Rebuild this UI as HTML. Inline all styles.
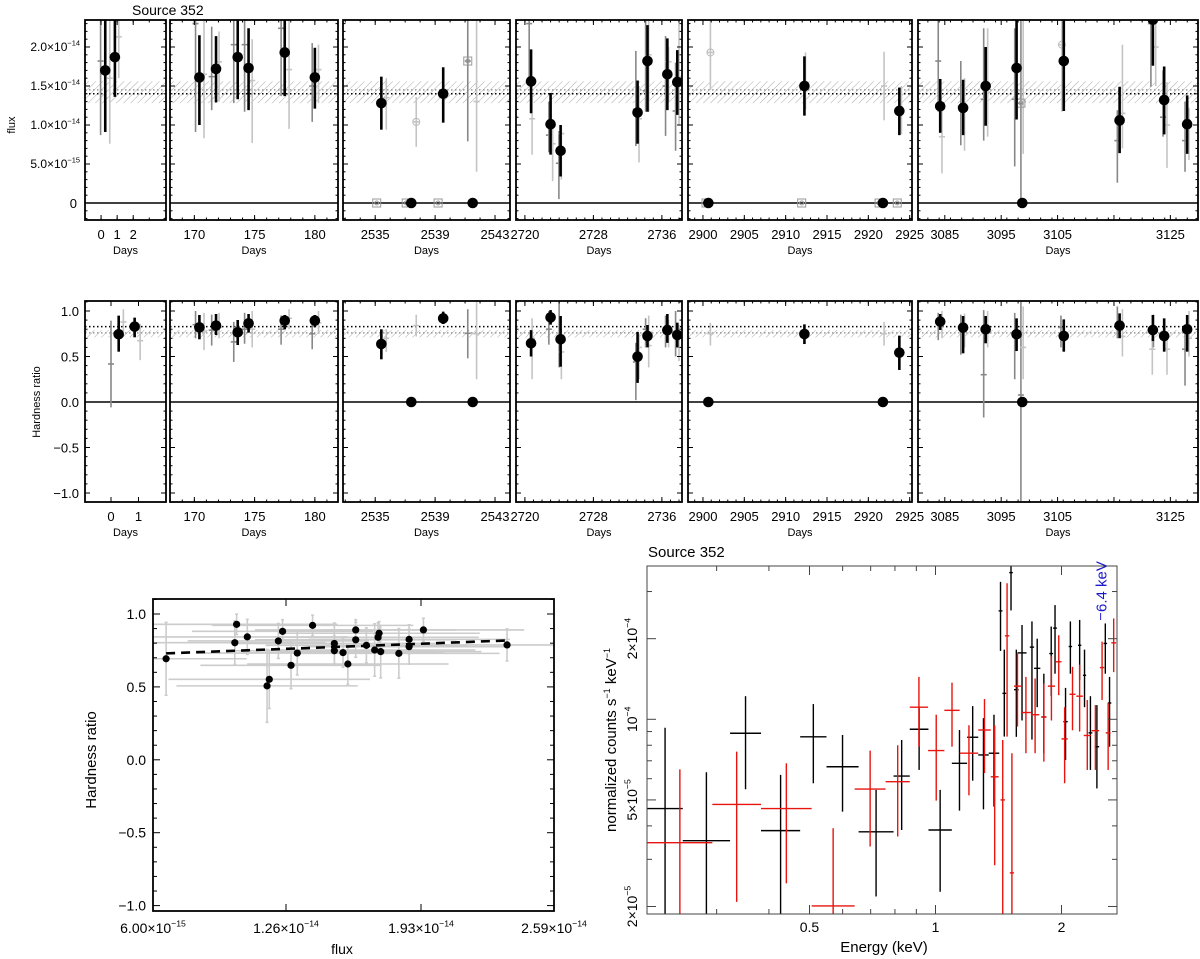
<!DOCTYPE html>
<html><head><meta charset="utf-8"><style>
body{margin:0;background:#fff}
svg{display:block;font-family:"Liberation Sans",sans-serif}
</style></head><body>
<svg id="fig" width="1200" height="959" viewBox="0 0 1200 959" xmlns="http://www.w3.org/2000/svg">
<defs>
<pattern id="hatch" patternUnits="userSpaceOnUse" width="5" height="5" patternTransform="rotate(45)">
<line x1="0" y1="0" x2="0" y2="5" stroke="#aaa" stroke-width="1"/></pattern>
</defs>
</svg>
<script>
// ---------- light curve data (flux in erg/cm2/s, days) ----------
const fluxBlackDays=[0.26,0.86,170.42,171.8,173.6,174.5,177.5,180.0,2535.41,2539.54,2720.72,2723.0,2724.17,2733.16,2734.32,2736.64,2737.8,2912.27,2923.75,3084.19,3088.25,3092.25,3097.73,3106.1,3116.0,3121.9,3123.9,3127.98];
const fluxBlackVals=[1.70e-14,1.87e-14,1.61e-14,1.72e-14,1.87e-14,1.73e-14,1.93e-14,1.61e-14,1.28e-14,1.40e-14,1.56e-14,1.01e-14,0.67e-14,1.16e-14,1.82e-14,1.65e-14,1.55e-14,1.50e-14,1.18e-14,1.24e-14,1.22e-14,1.50e-14,1.73e-14,1.82e-14,1.06e-14,2.35e-14,1.32e-14,1.01e-14];
const fluxBlackLo=[0.91e-14,1.36e-14,1.0e-14,1.29e-14,1.33e-14,1.19e-14,1.37e-14,1.21e-14,0.94e-14,1.03e-14,1.15e-14,0.62e-14,0.34e-14,0.76e-14,1.17e-14,1.19e-14,1.13e-14,1.12e-14,0.87e-14,0.90e-14,0.87e-14,0.99e-14,1.07e-14,1.18e-14,0.64e-14,1.76e-14,0.88e-14,0.63e-14];
const fluxBlackHi=[2.4e-14,2.4e-14,2.15e-14,2.14e-14,2.4e-14,2.24e-14,2.4e-14,1.99e-14,1.62e-14,1.74e-14,1.97e-14,1.41e-14,1.0e-14,1.57e-14,2.28e-14,2.11e-14,1.96e-14,1.88e-14,1.48e-14,1.59e-14,1.58e-14,2.0e-14,2.4e-14,2.4e-14,1.49e-14,2.4e-14,1.75e-14,1.38e-14];
const fluxGreyDays=[-0.03,0.54,1.1,170.1,171.44,173.27,174.17,177.2,179.78,170.8,172.05,174.8,177.86,180.3,2535.74,2537.74,2541.18,2541.77,2720.5,2720.84,2722.8,2723.24,2723.97,2724.26,2732.96,2733.33,2734.1,2734.46,2736.43,2736.78,2737.6,2738.0,2900.9,2912.4,2921.9,2924.0,3083.84,3084.5,3087.84,3088.5,3091.9,3092.6,3097.4,3098.5,3098.9,3105.77,3115.6,3116.5,3121.55,3122.4,3123.7,3124.4,3127.6,3128.3];
const fluxGreyVals=[1.82e-14,1.6e-14,2.13e-14,2.3e-14,1.62e-14,2.03e-14,2.03e-14,2.24e-14,1.5e-14,1.65e-14,1.81e-14,1.57e-14,1.71e-14,1.71e-14,1.35e-14,1.04e-14,1.82e-14,1.3e-14,2.3e-14,1.08e-14,0.87e-14,0.76e-14,0.51e-14,0.89e-14,1.2e-14,1.08e-14,1.44e-14,1.9e-14,1.5e-14,1.81e-14,1.18e-14,1.62e-14,1.93e-14,1.55e-14,1.5e-14,1.18e-14,1.82e-14,0.85e-14,1.24e-14,1.2e-14,1.33e-14,1.42e-14,1.33e-14,1.28e-14,1.3e-14,2.03e-14,0.8e-14,1.15e-14,2.3e-14,2.0e-14,1.1e-14,1.0e-14,0.8e-14,1.0e-14];
const fluxGreyLo=[0.87e-14,0.76e-14,1.6e-14,0.91e-14,1.19e-14,1.28e-14,1.17e-14,1.37e-14,1.04e-14,0.83e-14,1.30e-14,0.77e-14,0.95e-14,1.28e-14,0.94e-14,0.72e-14,0.79e-14,0.40e-14,1.56e-14,0.62e-14,0.65e-14,0.28e-14,0.05e-14,0.3e-14,0.73e-14,0.52e-14,1.17e-14,1.17e-14,0.86e-14,1.3e-14,0.67e-14,1.0e-14,1.45e-14,1.2e-14,1.06e-14,0.88e-14,1.17e-14,0.38e-14,0.74e-14,0.67e-14,0.8e-14,0.85e-14,0.47e-14,0,0.63e-14,1.17e-14,0.26e-14,0.7e-14,1.49e-14,1.5e-14,0.85e-14,0.45e-14,0.4e-14,0.55e-14];
const fluxGreyHi=[2.4e-14,2.4e-14,2.4e-14,2.4e-14,2.26e-14,2.4e-14,2.4e-14,2.4e-14,2.05e-14,2.4e-14,2.2e-14,2.1e-14,2.4e-14,2.03e-14,1.6e-14,1.36e-14,2.4e-14,2.4e-14,2.4e-14,1.4e-14,1.3e-14,1.05e-14,0.92e-14,1.0e-14,1.95e-14,1.5e-14,2.4e-14,2.4e-14,2.14e-14,2.0e-14,1.8e-14,2.4e-14,2.4e-14,1.93e-14,1.94e-14,1.5e-14,2.4e-14,1.24e-14,1.82e-14,1.6e-14,2.24e-14,2.24e-14,2.24e-14,2.4e-14,2.4e-14,2.4e-14,1.19e-14,2.03e-14,2.4e-14,2.4e-14,1.7e-14,1.55e-14,1.3e-14,1.22e-14];
const fluxGreyShade=['d','l','l','d','d','d','d','d','d','l','l','l','l','l','l','l','d','l','d','l','d','l','d','l','d','l','d','l','d','l','d','l','l','l','l','l','d','l','d','l','d','l','d','d','l','l','d','l','d','l','d','l','d','l'];
const fluxCircleDays=[2537.74,2900.9,3105.77];
const fluxCircleVals=[1.04e-14,1.93e-14,2.03e-14];
const fluxSquareDays=[2535.1,2537.07,2539.2,2541.18,2900.37,2911.94,2921.3,2923.5,3098.5];
const fluxSquareVals=[0,0,0,1.82e-14,0,0,0,0,1.28e-14];
const zeroDays=[2537.41,2541.51,2900.65,2921.76,3098.74];
// hardness
const hrBlackDays=[0.28,0.86,170.42,171.8,173.6,174.5,177.5,180.0,2535.41,2539.54,2720.72,2723.0,2724.17,2733.16,2734.32,2736.64,2737.8,2912.27,2923.75,3084.19,3088.25,3092.25,3097.73,3106.1,3116.0,3121.9,3123.9,3127.98];
const hrBlackVals=[0.744,0.828,0.82,0.839,0.766,0.864,0.894,0.894,0.637,0.919,0.645,0.93,0.689,0.498,0.725,0.79,0.736,0.747,0.542,0.883,0.817,0.799,0.744,0.725,0.839,0.791,0.725,0.799];
const hrBlackLo=[0.553,0.711,0.689,0.736,0.626,0.762,0.798,0.821,0.469,0.857,0.5,0.85,0.388,0.21,0.6,0.65,0.6,0.637,0.352,0.791,0.535,0.645,0.56,0.553,0.701,0.67,0.553,0.553];
const hrBlackHi=[0.949,0.927,0.956,0.967,0.901,0.967,0.956,0.956,0.799,0.993,0.79,1.01,0.945,0.77,0.846,0.967,0.872,0.853,0.729,0.967,0.945,0.945,0.919,0.908,0.974,0.956,0.919,0.956];
const hrGreyDays=[0,0.45,1.06,170.1,171.44,173.27,174.17,177.2,179.78,170.8,172.05,174.8,177.86,180.3,2535.74,2537.74,2541.18,2541.77,2720.84,2722.8,2724.0,2724.26,2732.96,2733.33,2734.1,2734.46,2736.43,2736.78,2737.6,2738.0,2900.9,2921.9,3083.84,3084.5,3087.84,3088.5,3091.9,3092.6,3097.4,3098.5,3098.9,3105.6,3115.6,3116.5,3121.8,3122.0,3124.4,3127.6,3128.3];
const hrGreyVals=[0.418,0.88,0.674,0.85,0.79,0.66,0.8,0.8,0.75,0.78,0.82,0.8,0.92,0.87,0.7,0.84,0.755,0.75,0.7,0.8,0.7,0.55,0.44,0.6,0.8,0.62,0.8,0.75,0.72,0.6,0.75,0.75,0.87,0.88,0.83,0.8,0.3,0.79,0.75,0.077,0.6,0.82,0.85,0.72,0.58,0.8,0.58,0.58,0.7];
const hrGreyLo=[-0.059,0.72,0.46,0.7,0.62,0.44,0.64,0.63,0.58,0.57,0.7,0.6,0.8,0.76,0.55,0.72,0.48,0.25,0.25,0.63,0.38,0.25,0.02,0.25,0.6,0.38,0.6,0.6,0.5,0.45,0.62,0.62,0.68,0.7,0.52,0.6,-0.17,0.6,0.25,-1.2,0.25,0.6,0.7,0.5,0.3,0.6,0.3,0.18,0.5];
const hrGreyHi=[0.894,1.02,0.86,1.0,0.96,0.88,0.98,0.95,0.92,0.98,0.98,1.0,1.02,1.0,0.8,0.96,1.02,1.2,0.92,1.0,1.2,0.8,0.65,0.75,0.92,0.95,0.95,0.9,1.0,0.85,0.87,0.88,0.98,1.0,0.96,0.97,1.01,1.0,0.98,1.2,1.05,0.95,1.05,1.02,0.8,0.96,0.75,0.85,1.0];
const hrGreyShade=['d','l','l','d','d','d','d','d','d','l','l','l','l','l','l','l','d','l','l','d','d','l','d','l','d','l','d','l','d','l','l','l','d','l','d','l','d','l','d','d','l','d','d','l','l','d','l','d','l'];
// scatter
const scatFlux=[6.65e-15,10.06e-15,10.15e-15,10.68e-15,11.66e-15,11.77e-15,12.22e-15,12.43e-15,12.85e-15,13.16e-15,13.92e-15,15.0e-15,15.0e-15,15.43e-15,15.67e-15,16.06e-15,16.06e-15,16.59e-15,17.0e-15,17.17e-15,17.22e-15,17.3e-15,18.2e-15,18.71e-15,18.71e-15,19.42e-15,23.57e-15];
const scatHr=[0.693,0.803,0.929,0.843,0.507,0.552,0.815,0.881,0.648,0.732,0.922,0.798,0.748,0.735,0.657,0.891,0.823,0.785,0.753,0.84,0.868,0.742,0.73,0.826,0.776,0.891,0.788];
const scatFluxErr=[4e-15,4.5e-15,5e-15,5e-15,4.5e-15,5e-15,4.5e-15,4.5e-15,4.5e-15,5e-15,5e-15,5e-15,5e-15,5e-15,5e-15,5e-15,5e-15,5e-15,5e-15,5e-15,5e-15,5e-15,5e-15,5e-15,5e-15,5e-15,4e-15];
const scatHrErr=[0.25,0.15,0.07,0.12,0.25,0.2,0.12,0.08,0.16,0.15,0.07,0.14,0.1,0.1,0.14,0.07,0.12,0.12,0.18,0.1,0.08,0.18,0.17,0.1,0.12,0.08,0.11];
const fitFlux=[6.65e-15,23.5e-15];
const fitHr=[0.730,0.818];
// spectrum
const blkElo=[0.205,0.249,0.323,0.383,0.475,0.549,0.655,0.794,0.868,0.962,1.094,1.19,1.265,1.34,1.415,1.445,1.50,1.54,1.57,1.68,1.72,1.79,1.87,1.91,2.02,2.08,2.19,2.25,2.32,2.40,2.52,2.58];
const blkEhi=[0.249,0.323,0.383,0.475,0.549,0.655,0.794,0.868,0.962,1.094,1.19,1.265,1.34,1.42,1.445,1.475,1.53,1.58,1.65,1.72,1.78,1.84,1.91,1.95,2.07,2.12,2.23,2.29,2.37,2.46,2.57,2.63];
const blkF=[4.64e-5,3.52e-5,8.87e-5,3.84e-5,8.6e-5,6.65e-5,3.8e-5,6.14e-5,9.18e-5,3.86e-5,6.85e-5,8.57e-5,7.36e-5,7.47e-5,2.54e-4,1.25e-4,3.53e-4,1.29e-4,1.77e-4,1.86e-4,1.55e-4,1.02e-4,1.76e-4,2.19e-4,9.8e-5,1.87e-4,1.89e-4,1.46e-4,8.9e-5,7.9e-5,1.92e-4,1.15e-4];
const blkFlo=[1.8e-5,1.8e-5,5.48e-5,1.8e-5,5.77e-5,4.52e-5,2.18e-5,3.86e-5,6.47e-5,2.27e-5,4.56e-5,5.9e-5,4.61e-5,4.72e-5,1.80e-4,8.62e-5,2.55e-4,8.6e-5,9.9e-5,8.4e-5,1.11e-4,7.47e-5,1.22e-4,1.48e-4,7.05e-5,1.48e-4,1.40e-4,1.11e-4,6.47e-5,5.52e-5,1.48e-4,7.9e-5];
const blkFhi=[9.3e-5,6.34e-5,1.22e-4,6.2e-5,1.14e-4,8.74e-5,5.45e-5,8.37e-5,1.11e-4,5.45e-5,9.12e-5,1.12e-4,1.01e-4,1.04e-4,3.26e-4,1.82e-4,3.9e-4,1.82e-4,2.25e-4,2.32e-4,2.0e-4,1.48e-4,2.22e-4,2.67e-4,1.31e-4,2.32e-4,2.35e-4,1.82e-4,1.22e-4,1.13e-4,2.28e-4,1.44e-4];
const redElo=[0.205,0.293,0.383,0.506,0.641,0.76,0.868,0.96,1.05,1.142,1.265,1.355,1.43,1.465,1.505,1.54,1.6,1.69,1.79,1.855,1.94,2.0,2.09,2.17,2.26,2.36,2.47,2.55,2.63];
const redEhi=[0.293,0.383,0.506,0.641,0.76,0.868,0.96,1.05,1.142,1.265,1.355,1.415,1.465,1.50,1.54,1.6,1.69,1.77,1.84,1.93,2.0,2.07,2.16,2.25,2.35,2.46,2.53,2.62,2.70];
const redF=[3.46e-5,4.81e-5,4.64e-5,2.01e-5,5.49e-5,5.85e-5,1.11e-4,7.64e-5,1.08e-4,7.47e-5,9.12e-5,6.1e-5,5.0e-5,2.05e-4,2.67e-5,1.33e-4,1.06e-4,1.04e-4,1.02e-4,1.33e-4,1.64e-4,8.45e-5,1.24e-4,1.22e-4,8.7e-5,9.07e-5,1.56e-4,8.9e-5,1.93e-4];
const redFlo=[1.8e-5,2.08e-5,2.44e-5,1.8e-5,3.35e-5,3.65e-5,7.9e-5,4.97e-5,7.9e-5,5.2e-5,6.3e-5,2.85e-5,1.8e-5,8.62e-5,1.8e-5,9.4e-5,7.47e-5,7.47e-5,6.95e-5,9.9e-5,1.23e-4,5.77e-5,9.1e-5,9.0e-5,6.47e-5,6.47e-5,1.18e-4,6.47e-5,1.5e-4];
const redFhi=[6.5e-5,7.57e-5,6.85e-5,3.92e-5,7.64e-5,8.0e-5,1.44e-4,1.04e-4,1.37e-4,9.5e-5,1.19e-4,9.5e-5,8.37e-5,3.22e-4,7.47e-5,1.76e-4,1.44e-4,1.42e-4,1.36e-4,1.72e-4,2.06e-4,1.11e-4,1.57e-4,1.6e-4,1.18e-4,1.13e-4,1.95e-4,1.15e-4,2.38e-4];

const svg=document.getElementById('fig');
const NS='http://www.w3.org/2000/svg';
function mk(tag,attrs,parent){const e=document.createElementNS(NS,tag);for(const k in attrs)e.setAttribute(k,attrs[k]);(parent||svg).appendChild(e);return e;}
function txt(x,y,s,opt,parent){const t=mk('text',Object.assign({x:x,y:y,'font-size':12,'text-anchor':'middle',fill:'#000'},opt||{}),parent);t.textContent=s;return t;}
function sciLabel(x,y,base,exp,size,anchor,parent){
  const t=mk('text',{x:x,y:y,'font-size':size,'text-anchor':anchor,fill:'#000'},parent);
  t.appendChild(document.createTextNode(base));
  const s=document.createElementNS(NS,'tspan');s.setAttribute('dy',-size*0.45);s.setAttribute('font-size',size*0.62);s.textContent=exp;t.appendChild(s);return t;}

// ---- light-curve panels geometry ----
const panels=[
 {x0:85,x1:166,d0:-1,d1:4.04,hd0:-0.945,hd1:2.0,ticks:[0,1,2],hticks:[0,1],minor:1},
 {x0:170,x1:338,d0:167.98,d1:181.92,ticks:[170,175,180],minor:1},
 {x0:343,x1:510,d0:2532.85,d1:2544.0,ticks:[2535,2539,2543],minor:1},
 {x0:516,x1:682,d0:2718.96,d1:2738.35,ticks:[2720,2728,2736],minor:1},
 {x0:688,x1:912,d0:2898.19,d1:2925.28,ticks:[2900,2905,2910,2915,2920,2925],minor:1},
 {x0:918,x1:1198,d0:3080.25,d1:3129.9,ticks:[3085,3095,3105,3115,3125],nolabel:[3115],minor:2}
];
const rows=[
 {name:'flux',top:20,bot:220,y:v=>203-v/1e-14*78,lo:-0.22e-14,hi:2.35e-14,labY:239,daysY:254},
 {name:'hardness',top:301,bot:502,y:v=>402-v*91,lo:-1.1,hi:1.11,labY:521,daysY:536}
];
function panelFor(d){return panels.findIndex(p=>d>=p.d0&&d<=p.d1);}
function xs(p,d,hr){const a=hr&&p.hd0!==undefined?p.hd0:p.d0,b=hr&&p.hd1!==undefined?p.hd1:p.d1;return p.x0+(d-a)/(b-a)*(p.x1-p.x0);}

rows.forEach((r,ri)=>{
  const isHr=ri===1;
  panels.forEach((p,pi)=>{
    const g=mk('g',{});
    
    
    const cid='clip'+ri+'_'+pi;
    const cp=mk('clipPath',{id:cid},g);mk('rect',{x:p.x0,y:r.top,width:p.x1-p.x0,height:r.bot-r.top},cp);
    const inner=mk('g',{'clip-path':'url(#'+cid+')'},g);
    const bLo=isHr?0.71:1.28e-14,bHi=isHr?0.79:1.56e-14;
    const band=mk('rect',{x:p.x0,y:r.y(bHi),width:p.x1-p.x0,height:r.y(bLo)-r.y(bHi),fill:'url(#hatch)'},inner);
    
    
    const gm=isHr?0.76:1.45e-14, bm=isHr?0.828:1.40e-14;
    mk('line',{x1:p.x0,x2:p.x1,y1:r.y(gm),y2:r.y(gm),stroke:'#999','stroke-width':1.5,'stroke-dasharray':'1.5 2.5'},inner);
    const ml=mk('line',{x1:p.x0,x2:p.x1,y1:r.y(bm),y2:r.y(bm),stroke:'#000','stroke-width':1.5,'stroke-dasharray':'1.5 2.5'},inner);
    
    
    const zl=mk('line',{x1:p.x0,x2:p.x1,y1:r.y(0),y2:r.y(0),stroke:'#000','stroke-width':1.5},inner);
    
    
    p['inner'+ri]=inner;
    mk('rect',{x:p.x0,y:r.top,width:p.x1-p.x0,height:r.bot-r.top,fill:'none',stroke:'#000','stroke-width':1.8},g);
    const a=isHr&&p.hd0!==undefined?p.hd0:p.d0,b=isHr&&p.hd1!==undefined?p.hd1:p.d1;
    const tk=isHr&&p.hticks?p.hticks:p.ticks;
    for(let d=Math.ceil(a/p.minor)*p.minor;d<=b;d+=p.minor){const x=xs(p,d,isHr);
      mk('line',{x1:x,x2:x,y1:r.bot,y2:r.bot-2.5,stroke:'#000'},g);mk('line',{x1:x,x2:x,y1:r.top,y2:r.top+2.5,stroke:'#000'},g);}
    tk.forEach(d=>{const x=xs(p,d,isHr);
      mk('line',{x1:x,x2:x,y1:r.bot,y2:r.bot-5,stroke:'#000'},g);mk('line',{x1:x,x2:x,y1:r.top,y2:r.top+5,stroke:'#000'},g);
      if(!(p.nolabel&&p.nolabel.includes(d))){const t=txt(x,r.labY,String(d),{'font-size':13},g);
        
        }});
    const dl=txt((p.x0+p.x1)/2,r.daysY,'Days',{'font-size':11},g);
    
    
    const minorStep=isHr?0.1:1e-15, majorStep=isHr?0.5:5e-15;
    for(let k=Math.ceil(r.lo/minorStep);k*minorStep<=r.hi;k++){const y=r.y(k*minorStep);const major=Math.abs(k*minorStep/majorStep-Math.round(k*minorStep/majorStep))<1e-6;const L=major?5:2.5;
      mk('line',{x1:p.x0,x2:p.x0+L,y1:y,y2:y,stroke:'#000'},g);mk('line',{x1:p.x1,x2:p.x1-L,y1:y,y2:y,stroke:'#000'},g);}
  });
});
[0,5e-15,1e-14,1.5e-14,2e-14].forEach(v=>{const y=rows[0].y(v)+4;let t;
  if(v===0)t=txt(77,y+1,'0',{'font-size':13,'text-anchor':'end'});
  else{const e=Math.floor(Math.log10(v)+1e-9);t=sciLabel(80,y,(v/Math.pow(10,e)).toFixed(1)+'×10','−'+(-e),12,'end');}
  
  });
[1,0.5,0,-0.5,-1].forEach(v=>{const t=txt(79,rows[1].y(v)+5,(v<0?'−':'')+Math.abs(v).toFixed(1),{'font-size':13,'text-anchor':'end'});
  
  });
let yt=txt(0,0,'flux',{'font-size':11,transform:'translate(15,125) rotate(-90)'});


yt=txt(0,0,'Hardness ratio',{'font-size':11,transform:'translate(40,402) rotate(-90)'});


let tt=txt(132,15,'Source 352',{'font-size':14,'text-anchor':'start'});



function errMarks(ri,days,vals,lo,hi,shade,kind){
  const r=rows[ri];
  days.forEach((d,i)=>{const pi=panelFor(d);if(pi<0)return;const p=panels[pi];const g=p['inner'+ri];
    const x=xs(p,d,ri===1);
    if(kind==='grey'){const col=shade[i]==='d'?'#888':'#c4c4c4';
      const l=mk('line',{x1:x,x2:x,y1:r.y(hi[i]),y2:r.y(lo[i]),stroke:col,'stroke-width':1.6},g);
      
      
      mk('line',{x1:x-3,x2:x+3,y1:r.y(vals[i]),y2:r.y(vals[i]),stroke:col,'stroke-width':1.6},g);}
    else{mk('line',{x1:x,x2:x,y1:r.y(hi[i]),y2:r.y(lo[i]),stroke:'#000','stroke-width':2.6},g);
      const c=mk('circle',{cx:x,cy:r.y(vals[i]),r:5.3,fill:'#000'},g);
      
      }
  });
}
errMarks(0,fluxGreyDays,fluxGreyVals,fluxGreyLo,fluxGreyHi,fluxGreyShade,'grey');
errMarks(1,hrGreyDays,hrGreyVals,hrGreyLo,hrGreyHi,hrGreyShade,'grey');
fluxCircleDays.forEach((d,i)=>{const p=panels[panelFor(d)];const c=mk('circle',{cx:xs(p,d),cy:rows[0].y(fluxCircleVals[i]),r:3.5,fill:'none',stroke:'#bbb'},p.inner0);
  
  });
fluxSquareDays.forEach((d,i)=>{const p=panels[panelFor(d)];const x=xs(p,d),y=rows[0].y(fluxSquareVals[i]);
  const s=mk('rect',{x:x-4,y:y-4,width:8,height:8,fill:'none',stroke:'#999'},p.inner0);
  
  
  mk('circle',{cx:x,cy:y,r:2,fill:'none',stroke:'#999'},p.inner0);});
errMarks(0,fluxBlackDays,fluxBlackVals,fluxBlackLo,fluxBlackHi,null,'black');
errMarks(1,hrBlackDays,hrBlackVals,hrBlackLo,hrBlackHi,null,'black');
[0,1].forEach(ri=>zeroDays.forEach(d=>{const p=panels[panelFor(d)];const c=mk('circle',{cx:xs(p,d,ri===1),cy:rows[ri].y(0),r:5.3,fill:'#000'},p['inner'+ri]);
  
  }));

// ---------- scatter ----------
const SX0=153,SX1=554,SY0=599,SY1=911;
const sx=f=>SX0+(f-6e-15)/(25.9e-15-6e-15)*(SX1-SX0);
const sy=h=>614+(1-h)*145.8;
const sg=mk('g',{});


const scp=mk('clipPath',{id:'scatclip'},sg);mk('rect',{x:SX0,y:SY0,width:SX1-SX0,height:SY1-SY0},scp);
const sin=mk('g',{'clip-path':'url(#scatclip)'},sg);
scatFlux.forEach((f,i)=>{
  mk('line',{x1:sx(f-scatFluxErr[i]),x2:sx(f+scatFluxErr[i]),y1:sy(scatHr[i]),y2:sy(scatHr[i]),stroke:'#ccc','stroke-width':1.6},sin);
  mk('line',{x1:sx(f),x2:sx(f),y1:sy(scatHr[i]+scatHrErr[i]),y2:sy(scatHr[i]-scatHrErr[i]),stroke:'#ccc','stroke-width':1.6},sin);
  [1,-1].forEach(s=>mk('line',{x1:sx(f)-1.5,x2:sx(f)+1.5,y1:sy(scatHr[i]+s*scatHrErr[i]),y2:sy(scatHr[i]+s*scatHrErr[i]),stroke:'#ccc','stroke-width':1.6},sin));});
scatFlux.forEach((f,i)=>{const c=mk('circle',{cx:sx(f),cy:sy(scatHr[i]),r:3.6,fill:'#000'},sin);
  
  });
const fit=mk('line',{x1:sx(fitFlux[0]),x2:sx(fitFlux[1]),y1:sy(fitHr[0]),y2:sy(fitHr[1]),stroke:'#000','stroke-width':2.6,'stroke-dasharray':'9 6'},sin);


mk('rect',{x:SX0,y:SY0,width:SX1-SX0,height:SY1-SY0,fill:'none',stroke:'#000','stroke-width':1.8},sg);
for(let k=-10;k<=11;k++){const v=k/10;const y=sy(v);const major=k%5===0;const L=major?7:4;
  mk('line',{x1:SX0,x2:SX0+L,y1:y,y2:y,stroke:'#000'},sg);mk('line',{x1:SX1,x2:SX1-L,y1:y,y2:y,stroke:'#000'},sg);
  if(major){const t=txt(SX0-7,y+5,(v<0?'−':'')+Math.abs(v).toFixed(1),{'font-size':14,'text-anchor':'end'},sg);
    
    }}
[[6e-15,'6.00×10','−15'],[12.6e-15,'1.26×10','−14'],[19.3e-15,'1.93×10','−14'],[25.9e-15,'2.59×10','−14']].forEach(tk=>{const x=sx(tk[0]);
  mk('line',{x1:x,x2:x,y1:SY1,y2:SY1-7,stroke:'#000'},sg);mk('line',{x1:x,x2:x,y1:SY0,y2:SY0+7,stroke:'#000'},sg);
  const t=sciLabel(x,933,tk[1],tk[2],14,'middle',sg);
  
  });
let st=txt(342,954,'flux',{'font-size':14},sg);


st=txt(0,0,'Hardness ratio',{'font-size':15,transform:'translate(96,760) rotate(-90)'},sg);



// ---------- spectrum ----------
const PX0=647,PX1=1117,PY0=566,PY1=914;
const ex=E=>935.5+Math.log10(E)*418.6;
const fy=F=>719.3-(Math.log10(F)+4)*267.8;
const pg=mk('g',{});


const pcp=mk('clipPath',{id:'specclip'},pg);mk('rect',{x:PX0,y:PY0,width:PX1-PX0,height:PY1-PY0},pcp);
const pin=mk('g',{'clip-path':'url(#specclip)'},pg);
function spec(elo,ehi,f,flo,fhi,col,nm){elo.forEach((a,i)=>{const xc=ex(Math.sqrt(a*ehi[i]));
  const h=mk('line',{x1:ex(a),x2:ex(ehi[i]),y1:fy(f[i]),y2:fy(f[i]),stroke:col,'stroke-width':1.4},pin);
  
  
  mk('line',{x1:xc,x2:xc,y1:fy(fhi[i]),y2:fy(flo[i]),stroke:col,'stroke-width':1.4},pin);});}
spec(blkElo,blkEhi,blkF,blkFlo,blkFhi,'#000','spectrum-bin-black');
spec(redElo,redEhi,redF,redFlo,redFhi,'#e8140e','spectrum-bin-red');
mk('rect',{x:PX0,y:PY0,width:PX1-PX0,height:PY1-PY0,fill:'none',stroke:'#444','stroke-width':1},pg);
[2e-5,3e-5,4e-5,5e-5,6e-5,7e-5,8e-5,9e-5,1e-4,2e-4,3e-4].forEach(v=>{const y=fy(v);const major=[2e-5,5e-5,1e-4,2e-4].includes(v);const L=major?9:5;
  mk('line',{x1:PX0,x2:PX0+L,y1:y,y2:y,stroke:'#444'},pg);mk('line',{x1:PX1,x2:PX1-L,y1:y,y2:y,stroke:'#444'},pg);});
[[2e-5,'2×10','−5'],[5e-5,'5×10','−5'],[1e-4,'10','−4'],[2e-4,'2×10','−4']].forEach(t=>{const g=mk('g',{transform:'translate(637,'+fy(t[0])+') rotate(-90)'},pg);
  const e=sciLabel(0,0,t[1],t[2],14,'middle',g);
  
  });
[0.3,0.4,0.5,0.6,0.7,0.8,0.9,1,2].forEach(v=>{const x=ex(v);const L=[0.5,1,2].includes(v)?9:5;
  mk('line',{x1:x,x2:x,y1:PY1,y2:PY1-L,stroke:'#444'},pg);mk('line',{x1:x,x2:x,y1:PY0,y2:PY0+L,stroke:'#444'},pg);});
[[0.5,'0.5'],[1,'1'],[2,'2']].forEach(t=>{const e=txt(ex(t[0]),932,t[1],{'font-size':14},pg);
  
  });
let sp=txt(884,952,'Energy (keV)',{'font-size':15},pg);


sp=txt(0,0,'',{'font-size':15,transform:'translate(616,740) rotate(-90)'},pg);
sp.appendChild(document.createTextNode('normalized counts s'));
let ts=document.createElementNS(NS,'tspan');ts.setAttribute('dy',-6);ts.setAttribute('font-size',9);ts.textContent='−1';sp.appendChild(ts);
ts=document.createElementNS(NS,'tspan');ts.setAttribute('dy',6);ts.textContent=' keV';sp.appendChild(ts);
ts=document.createElementNS(NS,'tspan');ts.setAttribute('dy',-6);ts.setAttribute('font-size',9);ts.textContent='−1';sp.appendChild(ts);


sp=txt(648,557,'Source 352',{'font-size':15,'text-anchor':'start'},pg);


const lineE=2.48;
mk('line',{x1:ex(lineE),x2:ex(lineE),y1:613,y2:620,stroke:'#2222cc','stroke-width':1},pg);
sp=txt(0,0,'6.4 keV',{'font-size':15,fill:'#1a1acc','text-anchor':'start',transform:'translate('+(ex(lineE)+6)+',612) rotate(-90)'},pg);


</script>
</body></html>
